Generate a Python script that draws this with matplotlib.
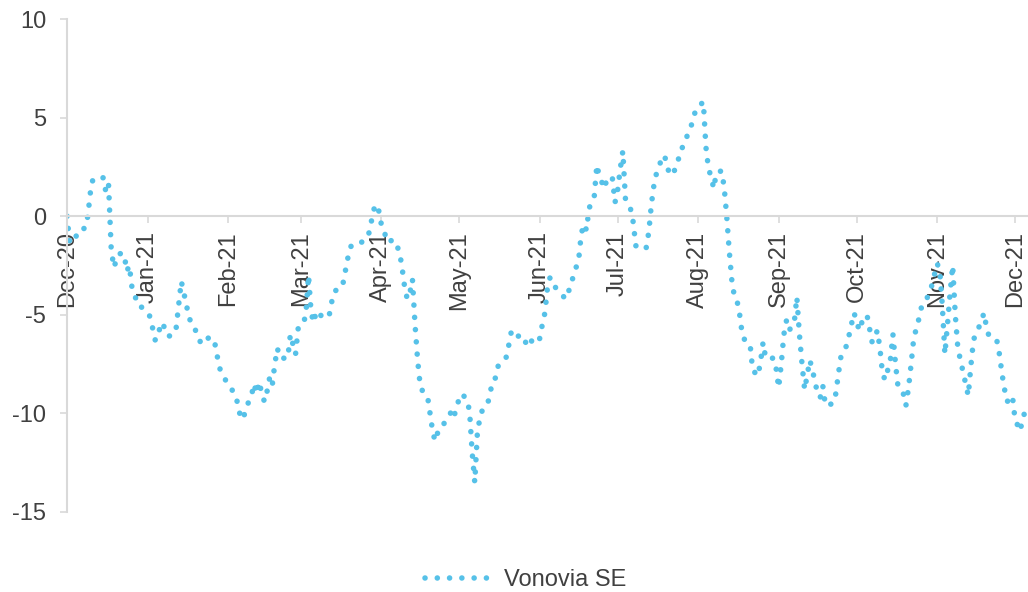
import matplotlib
matplotlib.use('Agg')
import matplotlib.pyplot as plt
import matplotlib.dates as mdates
import pandas as pd

# Vonovia SE, relative performance (%), Dec-20 to Dec-21
dates = [
    "2020-12-01", "2020-12-02", "2020-12-04", "2020-12-05", "2020-12-08", "2020-12-09",
    "2020-12-10", "2020-12-11", "2020-12-15", "2020-12-16", "2020-12-17", "2020-12-18",
    "2020-12-19", "2020-12-21", "2020-12-23", "2020-12-24", "2020-12-25", "2020-12-26",
    "2020-12-27", "2020-12-28", "2020-12-31",
    "2021-01-02", "2021-01-03", "2021-01-04", "2021-01-05", "2021-01-06", "2021-01-07",
    "2021-01-08", "2021-01-10", "2021-01-12", "2021-01-13", "2021-01-14", "2021-01-15",
    "2021-01-16", "2021-01-17", "2021-01-19", "2021-01-20", "2021-01-22", "2021-01-25",
    "2021-01-27", "2021-01-28", "2021-01-29", "2021-01-31",
    "2021-02-02", "2021-02-04", "2021-02-05", "2021-02-06", "2021-02-07", "2021-02-08",
    "2021-02-10", "2021-02-11", "2021-02-12", "2021-02-13", "2021-02-14", "2021-02-15",
    "2021-02-16", "2021-02-17", "2021-02-18", "2021-02-19", "2021-02-20", "2021-02-21",
    "2021-02-24", "2021-02-25", "2021-02-27", "2021-02-28",
    "2021-03-02", "2021-03-03", "2021-03-04", "2021-03-05", "2021-03-06", "2021-03-07",
    "2021-03-10", "2021-03-12", "2021-03-13", "2021-03-14", "2021-03-17", "2021-03-18",
    "2021-03-19", "2021-03-20", "2021-03-21", "2021-03-25", "2021-03-27", "2021-03-28",
    "2021-03-29", "2021-03-30", "2021-03-31",
    "2021-04-01", "2021-04-02", "2021-04-03", "2021-04-06", "2021-04-07", "2021-04-08",
    "2021-04-09", "2021-04-10", "2021-04-11", "2021-04-12", "2021-04-13", "2021-04-14",
    "2021-04-15", "2021-04-16", "2021-04-17", "2021-04-18", "2021-04-19", "2021-04-20",
    "2021-04-21", "2021-04-22", "2021-04-23", "2021-04-26", "2021-04-28", "2021-04-29",
    "2021-04-30",
    "2021-05-02", "2021-05-04", "2021-05-05", "2021-05-06", "2021-05-07", "2021-05-08",
    "2021-05-09", "2021-05-10", "2021-05-12", "2021-05-13", "2021-05-14", "2021-05-15",
    "2021-05-16", "2021-05-19", "2021-05-20", "2021-05-21", "2021-05-22", "2021-05-25",
    "2021-05-27", "2021-05-28", "2021-05-30",
    "2021-06-01", "2021-06-02", "2021-06-03", "2021-06-04", "2021-06-05", "2021-06-07",
    "2021-06-09", "2021-06-11", "2021-06-13", "2021-06-14", "2021-06-16", "2021-06-17",
    "2021-06-18", "2021-06-19", "2021-06-20", "2021-06-22", "2021-06-23", "2021-06-24",
    "2021-06-26", "2021-06-27", "2021-06-29", "2021-06-30",
    "2021-07-01", "2021-07-02", "2021-07-03", "2021-07-04", "2021-07-06", "2021-07-07",
    "2021-07-08", "2021-07-10", "2021-07-12", "2021-07-13", "2021-07-14", "2021-07-15",
    "2021-07-16", "2021-07-17", "2021-07-19", "2021-07-20", "2021-07-21", "2021-07-22",
    "2021-07-24", "2021-07-25", "2021-07-27", "2021-07-28", "2021-07-30", "2021-07-31",
    "2021-08-03", "2021-08-04", "2021-08-05", "2021-08-06", "2021-08-07", "2021-08-08",
    "2021-08-10", "2021-08-11", "2021-08-12", "2021-08-13", "2021-08-14", "2021-08-15",
    "2021-08-16", "2021-08-17", "2021-08-18", "2021-08-19", "2021-08-21", "2021-08-22",
    "2021-08-24", "2021-08-25", "2021-08-26", "2021-08-27", "2021-08-30", "2021-08-31",
    "2021-09-01", "2021-09-02", "2021-09-03", "2021-09-04", "2021-09-05", "2021-09-07",
    "2021-09-08", "2021-09-09", "2021-09-10", "2021-09-11", "2021-09-13", "2021-09-14",
    "2021-09-15", "2021-09-16", "2021-09-17", "2021-09-18", "2021-09-19", "2021-09-22",
    "2021-09-23", "2021-09-24", "2021-09-25", "2021-09-27", "2021-09-28", "2021-09-29",
    "2021-09-30",
    "2021-10-01", "2021-10-02", "2021-10-03", "2021-10-05", "2021-10-06", "2021-10-07",
    "2021-10-09", "2021-10-10", "2021-10-11", "2021-10-12", "2021-10-13", "2021-10-14",
    "2021-10-15", "2021-10-16", "2021-10-17", "2021-10-19", "2021-10-20", "2021-10-21",
    "2021-10-22", "2021-10-23", "2021-10-25", "2021-10-26", "2021-10-28", "2021-10-30",
    "2021-11-01", "2021-11-02", "2021-11-03", "2021-11-04", "2021-11-05", "2021-11-06",
    "2021-11-07", "2021-11-08", "2021-11-09", "2021-11-10", "2021-11-11", "2021-11-12",
    "2021-11-13", "2021-11-14", "2021-11-15", "2021-11-16", "2021-11-18", "2021-11-19",
    "2021-11-20", "2021-11-21", "2021-11-24", "2021-11-25", "2021-11-26", "2021-11-27",
    "2021-11-28", "2021-11-30",
    "2021-12-01", "2021-12-03", "2021-12-04", "2021-12-06",
]

values = [
    0.0, -1.3, -1.3, -0.75, -0.6, 0.0,
    1.2, 1.9, 1.95, 1.2, 1.6, -1.6,
    -2.6, -1.9, -1.9, -2.8, -2.5, -3.6,
    -3.9, -4.5, -4.7,
    -5.1, -5.7, -6.3, -6.1, -5.5, -5.4,
    -6.0, -6.1, -5.7, -4.5, -3.3, -3.9,
    -4.5, -5.2, -5.5, -6.1, -6.5, -6.1,
    -6.5, -7.2, -7.8, -8.3,
    -8.7, -9.1, -9.7, -10.3, -10.2, -9.7,
    -9.1, -8.5, -9.0, -8.4, -9.0, -9.4,
    -8.9, -8.2, -8.6, -7.5, -6.7, -7.2,
    -7.2, -6.0, -7.0, -5.7,
    -5.5, -4.9, -3.0, -4.9, -5.4, -4.8,
    -5.2, -5.0, -4.3, -3.8, -3.6, -2.9,
    -2.2, -1.6, -1.4, -1.3, -1.0, -0.4,
    0.3, 0.6, 0.3,
    -0.4, -0.6, -1.3, -1.2, -1.5, -1.8,
    -2.6, -3.6, -4.2, -3.9, -3.2, -5.5,
    -7.3, -8.6, -8.9, -9.0, -9.3, -10.2,
    -11.1, -11.4, -10.8, -10.4, -9.9, -10.2,
    -9.6,
    -9.0, -9.3, -9.9, -12.0, -13.5, -11.0,
    -10.2, -9.8, -9.5, -8.9, -8.3, -8.2,
    -7.6, -7.2, -6.6, -5.9, -6.2, -6.0,
    -6.5, -6.2, -6.5,
    -6.2, -5.5, -4.9, -3.6, -3.1, -3.6,
    -3.9, -4.2, -3.5, -3.0, -2.2, -0.9,
    -0.4, -0.7, 0.4, 1.0, 2.6, 2.0,
    1.4, 2.0, 1.9, 0.7,
    1.3, 2.4, 3.3, 0.9, 0.35, -0.3,
    -1.5, -1.4, -1.6, -0.8, 0.6, 1.6,
    2.2, 2.6, 3.1, 2.6, 2.1, 2.1,
    2.6, 3.3, 3.7, 4.2, 4.8, 5.4,
    5.8, 3.5, 2.4, 2.0, 1.4, 2.2,
    2.3, 1.5, 0.0, -1.8, -3.3, -4.1,
    -4.3, -5.0, -6.0, -6.3, -6.5, -7.8,
    -8.1, -7.4, -6.4, -7.2, -7.2, -7.7,
    -8.7, -7.5, -6.0, -5.3, -5.8, -5.4,
    -4.1, -6.0, -7.5, -8.8, -7.3, -7.8,
    -8.4, -9.0, -9.2, -8.6, -9.6, -9.5,
    -9.0, -8.0, -7.1, -6.6, -6.1, -5.5,
    -4.9,
    -5.3, -5.8, -5.4, -5.0, -5.7, -6.4,
    -5.8, -6.7, -8.0, -8.3, -7.8, -7.3,
    -6.0, -7.5, -8.7, -9.0, -9.6, -8.7,
    -7.5, -6.2, -5.2, -4.6, -4.2, -3.5,
    -2.4, -2.7, -4.5, -7.0, -5.5, -3.9,
    -2.5, -5.0, -6.7, -7.3, -7.9, -8.5,
    -9.1, -7.6, -6.3, -5.9, -5.4, -4.9,
    -5.6, -6.1, -6.3, -7.0, -8.0, -8.8,
    -9.4, -9.1,
    -10.3, -10.9, -10.2, -9.6,
]

series_name = "Vonovia SE"
line_color = "#56c1e8"
text_color = "#404040"
grid_color = "#d9d9d9"

plt.rcParams['font.family'] = ['Liberation Sans', 'DejaVu Sans']
plt.rcParams['axes.unicode_minus'] = False

fig = plt.figure(figsize=(10.28, 5.92), dpi=100)
ax = fig.add_axes([67 / 1028, 1 - 512 / 592, (1028 - 67) / 1028, (512 - 19) / 592])

x = pd.to_datetime(dates)
ax.plot(x, values, color=line_color, linewidth=4.0,
        linestyle=(0, (0.01, 2.2)), dash_capstyle='round', label=series_name)

# axes ranges and ticks
ax.set_ylim(-15, 10)
ax.set_yticks(range(-15, 11, 5))
ax.set_xlim(pd.Timestamp("2020-12-01"), pd.Timestamp("2021-12-06"))
ax.xaxis.set_major_locator(mdates.MonthLocator())
ax.xaxis.set_major_formatter(mdates.DateFormatter('%b-%y'))

# x axis sits on the zero line
ax.spines['bottom'].set_position(('data', 0))
ax.spines['top'].set_visible(False)
ax.spines['right'].set_visible(False)
for s in ('bottom', 'left'):
    ax.spines[s].set_color(grid_color)
    ax.spines[s].set_linewidth(1.5)

ax.tick_params(axis='y', direction='out', length=5, width=1.2, color=grid_color,
               labelsize=17, labelcolor=text_color, pad=10)
ax.tick_params(axis='x', direction='out', length=5, width=1.2, color=grid_color,
               labelsize=17, labelcolor=text_color, pad=6, labelrotation=90)

fig.legend(loc='center', bbox_to_anchor=(526 / 1028, 1 - 580 / 592), frameon=False,
           fontsize=17, handlelength=3.0, handletextpad=0.34, labelcolor=text_color)

fig.savefig("out.png", dpi=100)
